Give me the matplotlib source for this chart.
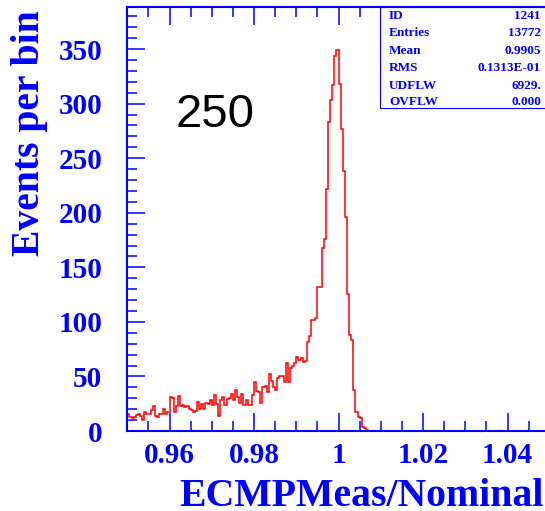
import numpy as np
import matplotlib.pyplot as plt
from matplotlib.ticker import MultipleLocator, FuncFormatter
from matplotlib.patches import Rectangle

# histogram: 0.95 .. 1.05, bin width 0.0005 (bins with content start at 0.95)
x_min, x_max = 0.95, 1.05
bin_w = 0.0005
counts = [
    16, 13, 12, 13, 15, 16, 14, 10, 17, 16, 16, 19, 23, 14, 13, 16, 16, 20, 16, 17,
    31, 30, 17, 23, 32, 23, 24, 22, 23, 20, 19, 17, 18, 27, 20, 25, 20, 26, 25, 28,
    24, 33, 25, 14, 28, 31, 24, 29, 30, 34, 28, 38, 31, 26, 34, 24, 28, 24, 24, 33,
    45, 37, 36, 26, 40, 41, 36, 52, 46, 40, 38, 49, 50, 50, 45, 62, 45, 58, 60, 62,
    68, 65, 67, 63, 64, 82, 87, 102, 102, 104, 132, 132, 168, 176, 222, 283, 303, 317, 344, 349,
    318, 277, 238, 196, 126, 88, 83, 38, 17, 13, 12, 4, 3, 1, 0, 0, 0, 0, 0, 0,
]
y_max = 388.6

stat_names = ["ID", "Entries", "Mean", "RMS", "UDFLW", "OVFLW"]
stat_values = ["1241", "13772", "0.9905", "0.1313E-01", "6929.", "0.000"]

plt.rcParams["font.family"] = "Liberation Serif"
plt.rcParams["font.weight"] = "bold"

W, H = 545, 511
blue = "#0000ff"

fig = plt.figure(figsize=(W / 100, H / 100), dpi=100)
# axes right edge lies just outside the picture (cropped like the original)
ax = fig.add_axes([127.3 / W, (H - 431) / H, (549.8 - 127.3) / W, (431 - 7) / H])

edges = np.linspace(x_min, x_min + bin_w * len(counts), len(counts) + 1)
ax.stairs(counts, edges, color="red", lw=1.1, baseline=None)

ax.set_xlim(x_min, x_max)
ax.set_ylim(0, y_max)

ax.xaxis.set_major_locator(MultipleLocator(0.02))
ax.xaxis.set_minor_locator(MultipleLocator(0.005))
ax.yaxis.set_major_locator(MultipleLocator(50))
ax.yaxis.set_minor_locator(MultipleLocator(10))
ax.xaxis.set_major_formatter(FuncFormatter(lambda v, p: "%g" % round(v, 4)))

for s in ax.spines.values():
    s.set_color(blue)
    s.set_linewidth(1.5)

ax.tick_params(which="both", direction="in", color=blue, labelcolor=blue,
               top=True, right=False, width=1.1)
ax.tick_params(which="major", length=13)
ax.tick_params(which="minor", length=7)
ax.tick_params(axis="x", pad=8, labelsize=21)
ax.tick_params(axis="y", pad=18, labelsize=21)

# stats box
ax.add_patch(Rectangle((0.598, 0.762), 0.402, 0.238, transform=ax.transAxes,
                       facecolor="white", edgecolor=blue, lw=0.8, zorder=2,
                       clip_on=False))
rows_y = [16, 33, 51, 68, 86, 102]
for name, val, yy in zip(stat_names, stat_values, rows_y):
    fy = (431 - yy) / 424
    ax.text((389 - 127.3) / 422.5, fy, name, transform=ax.transAxes,
            ha="left", va="center", fontsize=9.5, color=blue, zorder=3)
    ax.text((541 - 127.3) / 422.5, fy, val, transform=ax.transAxes,
            ha="right", va="center", fontsize=9.5, color=blue, zorder=3)

fig.text(30 / W, 1 - 10 / H, "Events per bin", rotation=90, ha="center",
         va="top", fontsize=28.5, color=blue)
fig.text(544 / W, 1 - 506 / H, "ECMPMeas/Nominal", ha="right",
         va="baseline", fontsize=28.6, color=blue)
fig.text(215 / W, 1 - 115 / H, "250", ha="center", va="center", fontsize=34,
         family="Liberation Sans", weight="normal", color="black")

fig.savefig("out.png", dpi=100)
